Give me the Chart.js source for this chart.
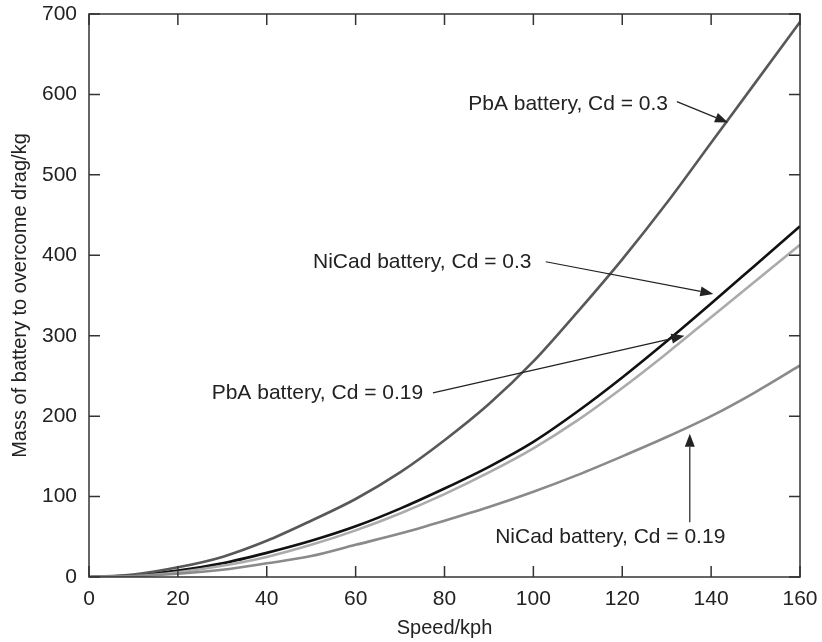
<!DOCTYPE html>
<html>
<head>
<meta charset="utf-8">
<script src="https://cdn.jsdelivr.net/npm/chart.js@4.4.1/dist/chart.umd.min.js"></script>
<style>
  html, body { margin: 0; padding: 0; background: #fff; }
  #wrap { width: 822px; height: 642px; }
</style>
</head>
<body>
<div id="wrap"><canvas id="chart" width="822" height="642"></canvas></div>
<script>
// speed in kph, battery mass in kg
const speeds = [0, 10, 20, 30, 40, 50, 60, 70, 80, 90, 100, 110, 120, 130, 140, 150, 160];
const pba03 = [0, 3, 12, 25, 45, 70, 97, 130, 170, 215, 268, 330, 395, 465, 540, 615, 690];
const nicad03 = [0, 2, 8, 17, 30, 45, 63, 85, 110, 137, 168, 206, 248, 293, 340, 388, 436];
const pba019 = [0, 1, 6, 14, 25, 40, 58, 79, 103, 130, 160, 195, 235, 278, 323, 368, 413];
const nicad019 = [0, 1, 4, 9, 17, 26, 40, 54, 70, 87, 106, 127, 150, 174, 200, 230, 263];

const xTicks = [0, 20, 40, 60, 80, 100, 120, 140, 160];
const yTicks = [0, 100, 200, 300, 400, 500, 600, 700];

// label text, anchor and arrow in data units
const notes = [
    { text: 'PbA battery, Cd = 0.3', at: [130.3, 588], align: 'right', from: [132.3, 591], to: [143.8, 565] },
    { text: 'NiCad battery, Cd = 0.3', at: [50.4, 392], align: 'left', from: [102.8, 392], to: [140.5, 352] },
    { text: 'PbA battery, Cd = 0.19', at: [75.2, 229], align: 'right', from: [77.4, 229], to: [134, 300] },
    { text: 'NiCad battery, Cd = 0.19', at: [91.4, 50], align: 'left', from: [135.2, 68], to: [135.2, 178] }
];

const FONT = '"Liberation Sans", Arial, Helvetica, sans-serif';

const toXY = (arr) => speeds.map((s, i) => ({ x: s, y: arr[i] }));

// frame round the plot with inward ticks on all four sides
const frameTicks = {
    id: 'frameTicks',
    afterDatasetsDraw(chart) {
        const { ctx, chartArea: a, scales: { x, y } } = chart;
        ctx.save();
        ctx.strokeStyle = '#333';
        ctx.lineWidth = 1.5;
        ctx.strokeRect(a.left, a.top, a.right - a.left, a.bottom - a.top);
        ctx.beginPath();
        xTicks.forEach(v => {
            const px = x.getPixelForValue(v);
            ctx.moveTo(px, a.bottom); ctx.lineTo(px, a.bottom - 11);
            ctx.moveTo(px, a.top); ctx.lineTo(px, a.top + 11);
        });
        yTicks.forEach(v => {
            const py = y.getPixelForValue(v);
            ctx.moveTo(a.left, py); ctx.lineTo(a.left + 11, py);
            ctx.moveTo(a.right, py); ctx.lineTo(a.right - 11, py);
        });
        ctx.stroke();
        ctx.restore();
    }
};

// text labels with arrows
const arrowNotes = {
    id: 'arrowNotes',
    afterDatasetsDraw(chart) {
        const { ctx, scales: { x, y } } = chart;
        ctx.save();
        ctx.font = '21px ' + FONT;
        ctx.fillStyle = '#222';
        ctx.strokeStyle = '#222';
        ctx.lineWidth = 1.2;
        ctx.textBaseline = 'middle';
        notes.forEach(n => {
            ctx.textAlign = n.align;
            ctx.fillText(n.text, x.getPixelForValue(n.at[0]), y.getPixelForValue(n.at[1]));

            const x0 = x.getPixelForValue(n.from[0]), y0 = y.getPixelForValue(n.from[1]);
            const x1 = x.getPixelForValue(n.to[0]), y1 = y.getPixelForValue(n.to[1]);
            const ang = Math.atan2(y1 - y0, x1 - x0);
            const len = 13, half = 5;
            const bx = x1 - len * Math.cos(ang), by = y1 - len * Math.sin(ang);
            ctx.beginPath();
            ctx.moveTo(x0, y0);
            ctx.lineTo(bx, by);
            ctx.stroke();
            ctx.beginPath();
            ctx.moveTo(x1, y1);
            ctx.lineTo(bx + half * Math.sin(ang), by - half * Math.cos(ang));
            ctx.lineTo(bx - half * Math.sin(ang), by + half * Math.cos(ang));
            ctx.closePath();
            ctx.fill();
        });
        ctx.restore();
    }
};

const line = (label, arr, color) => ({
    label: label,
    data: toXY(arr),
    borderColor: color,
    borderWidth: 2.6,
    pointRadius: 0,
    cubicInterpolationMode: 'monotone',
    fill: false
});

// fixed scale sizes and no label overhang, so the plot box lands where the reference has it
const noPad = (s) => { s.paddingTop = 0; s.paddingBottom = 0; s.paddingLeft = 0; s.paddingRight = 0; };

new Chart(document.getElementById('chart').getContext('2d'), {
    type: 'line',
    data: {
        datasets: [
            line('NiCad battery, Cd = 0.19', nicad019, '#8a8a8a'),
            line('PbA battery, Cd = 0.19', pba019, '#ababab'),
            line('PbA battery, Cd = 0.3', pba03, '#585858'),
            line('NiCad battery, Cd = 0.3', nicad03, '#111111')
        ]
    },
    options: {
        responsive: false,
        animation: false,
        layout: { padding: { top: 14, right: 22, left: 0, bottom: 0 } },
        plugins: {
            legend: { display: false },
            tooltip: { enabled: false }
        },
        scales: {
            x: {
                type: 'linear',
                min: 0,
                max: 160,
                afterBuildTicks: (s) => { s.ticks = xTicks.map(v => ({ value: v })); },
                afterFit: (s) => { s.height = 65; noPad(s); },
                grid: { display: false, drawTicks: false },
                border: { display: false },
                ticks: { padding: 10, color: '#222', font: { family: FONT, size: 21 }, maxRotation: 0 },
                title: {
                    display: true,
                    text: 'Speed/kph',
                    color: '#222',
                    font: { family: FONT, size: 20 },
                    padding: { top: 0, bottom: 2 }
                }
            },
            y: {
                min: 0,
                max: 700,
                afterBuildTicks: (s) => { s.ticks = yTicks.map(v => ({ value: v })); },
                afterFit: (s) => { s.width = 89; noPad(s); },
                grid: { display: false, drawTicks: false },
                border: { display: false },
                ticks: { padding: 12, color: '#222', font: { family: FONT, size: 21 } },
                title: {
                    display: true,
                    text: 'Mass of battery to overcome drag/kg',
                    color: '#222',
                    font: { family: FONT, size: 20 },
                    padding: { top: 8, bottom: 0 }
                }
            }
        }
    },
    plugins: [frameTicks, arrowNotes]
});
</script>
</body>
</html>
